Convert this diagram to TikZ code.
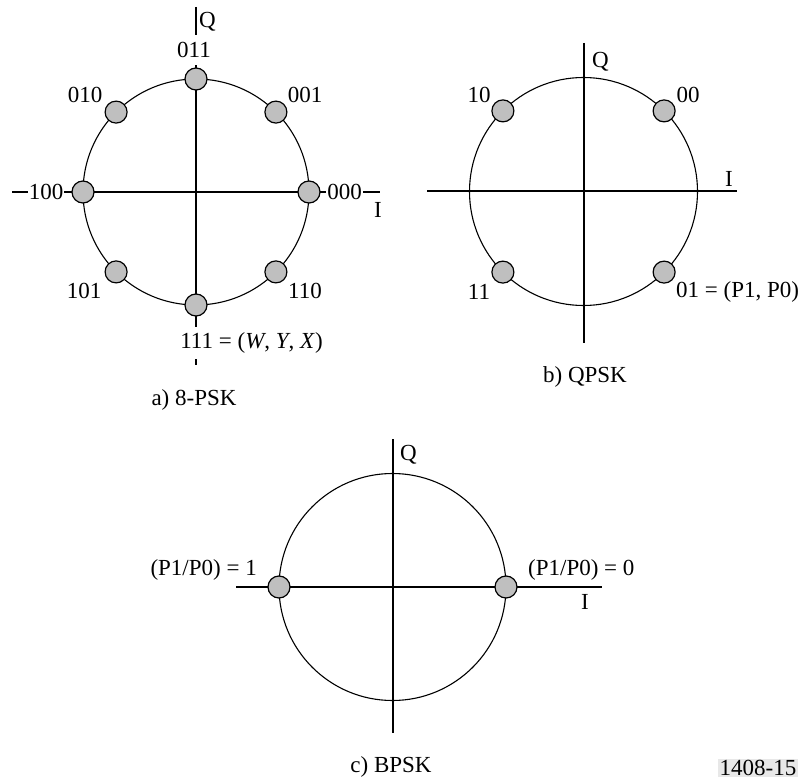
\documentclass[tikz,border=0pt]{standalone}
\usepackage{fontspec}
\setmainfont{Liberation Serif}
\usetikzlibrary{positioning,calc}

\begin{document}
\begin{tikzpicture}[
    x=1pt, y=-1pt,
    axis/.style={line width=2pt},
    ring/.style={line width=1.1pt},
    sym/.style={circle, draw, fill=gray!50, line width=1.2pt, minimum size=22pt, inner sep=0pt},
    lbl/.style={font=\fontsize{23}{26}\selectfont, inner sep=1pt},
    mask/.style={lbl, fill=white}
]
\useasboundingbox (0,0) rectangle (805,783);

% a) 8-PSK
\coordinate (c8) at (196,192);
\coordinate (q8top) at (196,7);
\coordinate (q8bot) at (196,365);
\coordinate (i8left) at (12,192);
\coordinate (i8right) at (380,192);
\draw[axis] (q8top) -- (q8bot);
\draw[axis] (i8left) -- (i8right);
\draw[ring] (c8) circle[radius=113pt];
\node[sym] (p000) at ($(c8)+(0:113pt)$) {};
\node[sym] (p001) at ($(c8)+(45:113pt)$) {};
\node[sym] (p011) at ($(c8)+(90:113pt)$) {};
\node[sym] (p010) at ($(c8)+(135:113pt)$) {};
\node[sym] (p100) at ($(c8)+(180:113pt)$) {};
\node[sym] (p101) at ($(c8)+(225:113pt)$) {};
\node[sym] (p111) at ($(c8)+(270:113pt)$) {};
\node[sym] (p110) at ($(c8)+(315:113pt)$) {};
\node[lbl, anchor=west] (q8) at (198,22) {Q};
\node[lbl] (i8) at (378,210) {I};
\node[mask, inner ysep=7.5pt] (l011) at (194,50) {011};
\node[lbl] (l010) at (85,95) {010};
\node[lbl] (l001) at (305,95) {001};
\node[mask] (l100) at (46,192) {100};
\node[mask] (l000) at (344.5,192) {000};
\node[lbl] (l101) at (84,291) {101};
\node[lbl] (l110) at (305,291) {110};
\node[mask, inner ysep=6pt] (l111) at (251.5,343) {111 = (\textit{W}, \textit{Y}, \textit{X})};
\node[lbl] (cap8) at (194,400) {a) 8-PSK};

% b) QPSK
\coordinate (cq) at (583.5,191.5);
\coordinate (qqtop) at (583.5,43);
\coordinate (qqbot) at (583.5,343);
\coordinate (iqleft) at (427,191.5);
\coordinate (iqright) at (737,191.5);
\draw[axis] (qqtop) -- (qqbot);
\draw[axis] (iqleft) -- (iqright);
\draw[ring] (cq) circle[radius=114pt];
\node[sym] (p00) at ($(cq)+(45:114pt)$) {};
\node[sym] (p10) at ($(cq)+(135:114pt)$) {};
\node[sym] (p11) at ($(cq)+(225:114pt)$) {};
\node[sym] (p01) at ($(cq)+(315:114pt)$) {};
\node[lbl, anchor=west] (qq) at (591,62) {Q};
\node[lbl] (iq) at (729,179) {I};
\node[lbl] (l10) at (479,95) {10};
\node[lbl] (l00) at (688,95) {00};
\node[lbl] (l11) at (479,292) {11};
\node[lbl, anchor=west] (l01) at (675,292) {01 = (P1, P0)};
\node[lbl] (capq) at (585,377) {b) QPSK};

% c) BPSK
\coordinate (cb) at (392.5,587);
\coordinate (qbtop) at (392.5,439);
\coordinate (qbbot) at (392.5,733);
\coordinate (ibleft) at (236,587);
\coordinate (ibright) at (602,587);
\draw[axis] (qbtop) -- (qbbot);
\draw[axis] (ibleft) -- (ibright);
\draw[ring] (cb) circle[radius=113.5pt];
\node[sym] (p0) at ($(cb)+(0:113.5pt)$) {};
\node[sym] (p1) at ($(cb)+(180:113.5pt)$) {};
\node[lbl, anchor=west] (qb) at (399,455) {Q};
\node[lbl] (ib) at (585,602) {I};
\node[lbl, anchor=west] (l0) at (527,570) {(P1/P0) = 0};
\node[lbl, anchor=east] (l1) at (258,570) {(P1/P0) = 1};
\node[lbl] (capb) at (391,767) {c) BPSK};

\node[lbl, fill=gray!18, inner sep=1.5pt] (fig) at (758,768) {1408-15};
\end{tikzpicture}
\end{document}
